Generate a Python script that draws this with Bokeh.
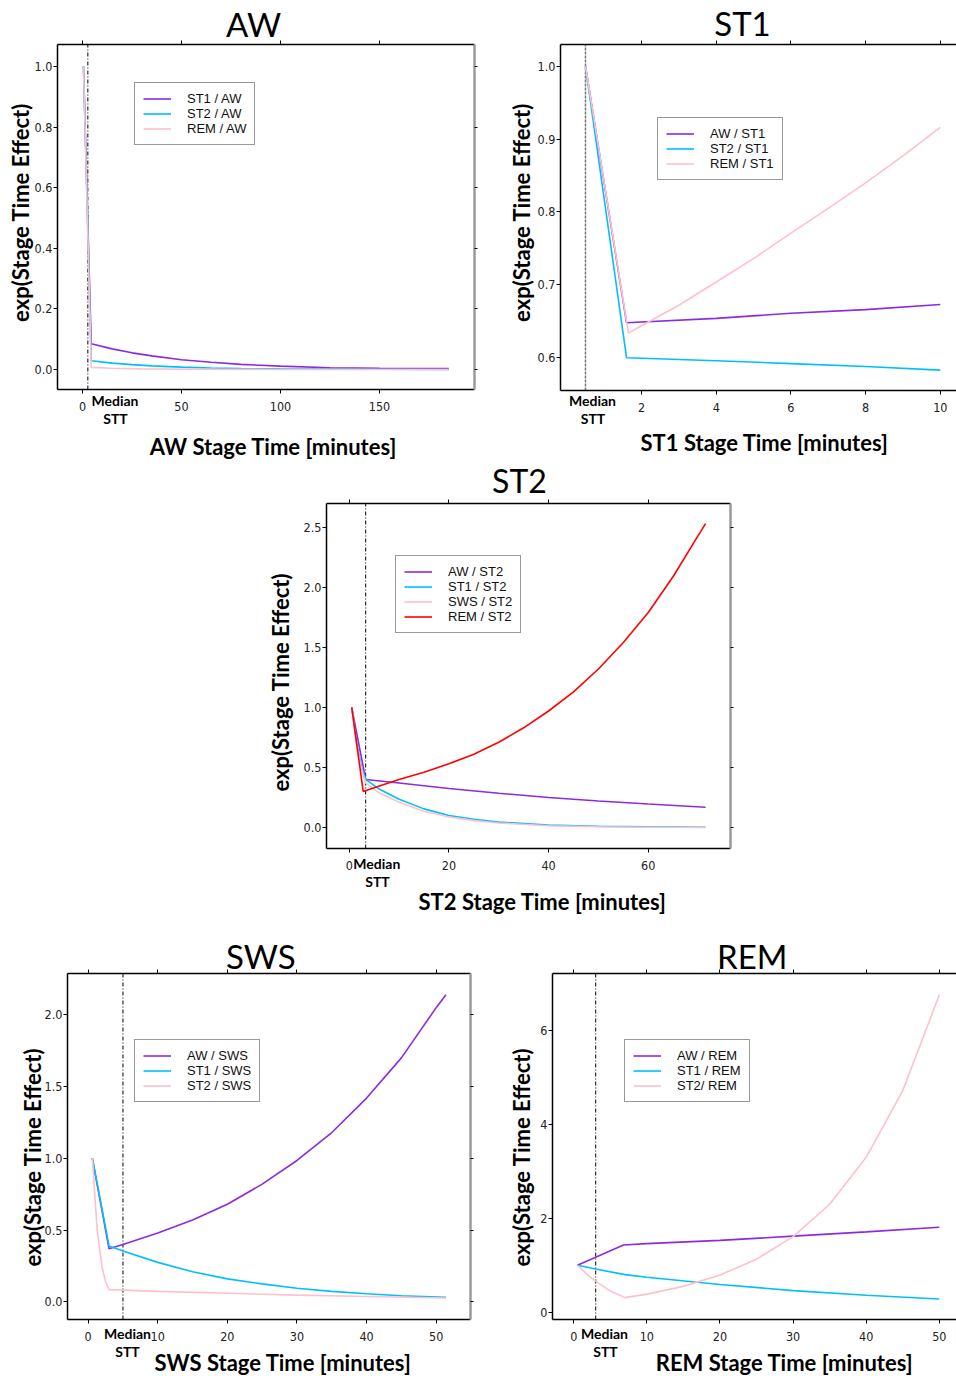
from bokeh.plotting import figure
from bokeh.models import (Range1d, LinearAxis, FixedTicker, Label, Legend, LegendItem, Spacer,
                          NumeralTickFormatter, CustomJSTickFormatter)
from bokeh.layouts import column, row
from bokeh.embed import file_html
from bokeh.resources import INLINE
import math

# ---------------- data ----------------
# AW panel
aw_st1_x = [0.5, 4.4, 15, 25, 35, 50, 65, 80, 100, 125, 150, 185]
aw_st1_y = [1.0, 0.085, 0.068, 0.055, 0.045, 0.032, 0.024, 0.017, 0.011, 0.006, 0.004, 0.003]
aw_st2_x = [0.5, 4.4, 15, 25, 35, 50, 65, 80, 100, 150, 185]
aw_st2_y = [1.0, 0.029, 0.021, 0.016, 0.012, 0.008, 0.005, 0.003, 0.002, 0.001, 0.0]
aw_rem_x = [0.5, 4.4, 15, 30, 60, 100, 185]
aw_rem_y = [1.0, 0.007, 0.004, 0.002, 0.001, 0.0, 0.0]
aw_median = 2.7

# ST1 panel
st1_aw_x = [0.5, 1.6, 4, 6, 8, 10]
st1_aw_y = [1.0, 0.648, 0.654, 0.661, 0.666, 0.673]
st1_st2_x = [0.5, 1.6, 4, 6, 8, 10]
st1_st2_y = [1.0, 0.600, 0.596, 0.592, 0.588, 0.583]
st1_rem_x = [0.5, 1.65, 2, 3, 4, 5, 6, 7, 8, 9, 10]
st1_rem_y = [1.0, 0.634, 0.644, 0.672, 0.704, 0.736, 0.771, 0.805, 0.840, 0.877, 0.916]
st1_median = 0.5

# ST2 panel
st2_aw_x = [0.5, 3.3, 10, 20, 30, 40, 50, 60, 71.5]
st2_aw_y = [1.0, 0.40, 0.37, 0.325, 0.285, 0.25, 0.22, 0.195, 0.168]
st2_st1_x = [0.5, 1.5, 2.5, 3.3, 6, 10, 15, 20, 25, 30, 40, 50, 60, 71.5]
st2_st1_y = [1.0, 0.70, 0.50, 0.40, 0.32, 0.235, 0.155, 0.10, 0.068, 0.045, 0.02, 0.01, 0.005, 0.002]
st2_sws_x = [0.5, 1.5, 2.5, 3.3, 6, 10, 15, 20, 25, 30, 40, 50, 60, 71.5]
st2_sws_y = [1.0, 0.68, 0.48, 0.37, 0.29, 0.21, 0.135, 0.087, 0.057, 0.037, 0.015, 0.006, 0.002, 0.0]
st2_rem_x = [0.5, 2.8, 5, 10, 15, 20, 25, 30, 35, 40, 45, 50, 55, 60, 65, 70, 71.5]
st2_rem_y = [1.0, 0.30, 0.33, 0.40, 0.46, 0.53, 0.61, 0.71, 0.83, 0.97, 1.13, 1.32, 1.54, 1.79, 2.09, 2.43, 2.53]
st2_median = 3.3

# SWS panel
sws_aw_x = [0.6, 3.0, 5, 10, 15, 20, 25, 30, 35, 40, 45, 50, 51.4]
sws_aw_y = [1.0, 0.37, 0.40, 0.48, 0.57, 0.68, 0.82, 0.985, 1.18, 1.42, 1.70, 2.05, 2.14]
sws_st1_x = [0.6, 3.0, 5, 10, 15, 20, 25, 30, 35, 40, 45, 51.4]
sws_st1_y = [1.0, 0.39, 0.355, 0.275, 0.21, 0.16, 0.125, 0.095, 0.073, 0.056, 0.043, 0.032]
sws_st2_x = [0.6, 1.3, 2.0, 2.5, 3.0, 10, 20, 30, 40, 51.4]
sws_st2_y = [1.0, 0.50, 0.24, 0.14, 0.085, 0.073, 0.06, 0.047, 0.037, 0.027]
sws_median = 5.0

# REM panel
rem_aw_x = [0.5, 6.8, 10, 20, 30, 40, 50]
rem_aw_y = [1.0, 1.43, 1.46, 1.53, 1.62, 1.71, 1.81]
rem_st1_x = [0.5, 3, 7, 10, 20, 30, 40, 50]
rem_st1_y = [1.0, 0.92, 0.80, 0.745, 0.59, 0.46, 0.36, 0.28]
rem_st2_x = [0.5, 2, 3, 5, 7, 10, 15, 20, 25, 30, 35, 40, 45, 50]
rem_st2_y = [1.0, 0.78, 0.66, 0.45, 0.31, 0.385, 0.55, 0.79, 1.13, 1.61, 2.30, 3.30, 4.72, 6.76]
rem_median = 3.0

# ticks
aw_xticks = [0, 50, 100, 150]
aw_yticks = [0.0, 0.2, 0.4, 0.6, 0.8, 1.0]
st1_xticks = [2, 4, 6, 8, 10]
st1_yticks = [0.6, 0.7, 0.8, 0.9, 1.0]
st2_xticks = [0, 20, 40, 60]
st2_yticks = [0.0, 0.5, 1.0, 1.5, 2.0, 2.5]
sws_xticks = [0, 10, 20, 30, 40, 50]
sws_yticks = [0.0, 0.5, 1.0, 1.5, 2.0]
rem_xticks = [0, 10, 20, 30, 40, 50]
rem_yticks = [0, 2, 4, 6]

# ---------------- style ----------------
PURPLE = "#8A2BE2"
BLUE = "#00BFFF"
PINK = "#FFC0CB"
RED = "#FF0000"
ARIAL = "Liberation Sans"
CAL = "Lato"
TICKFONT = "DejaVu Sans Condensed"
YLABEL = "exp(Stage Time Effect)"


def num_axis(ticks, fmt, loc, bounds, labels=True, line_color="black", line_width=1.5, tick_out=4):
    ax = LinearAxis(ticker=FixedTicker(ticks=ticks), fixed_location=loc, bounds=bounds)
    ax.axis_line_color = line_color
    ax.axis_line_width = line_width
    ax.major_tick_in = 0
    ax.major_tick_out = tick_out
    ax.major_tick_line_color = "black"
    ax.major_tick_line_width = 1
    ax.minor_tick_line_color = None
    if labels:
        ax.formatter = NumeralTickFormatter(format=fmt)
        ax.major_label_text_font = TICKFONT
        ax.major_label_text_font_size = "12.5px"
        ax.major_label_text_color = "#222222"
    else:
        ax.formatter = CustomJSTickFormatter(code="return '';")
        ax.major_label_text_font_size = "1px"
        ax.major_label_standoff = 0
    return ax


def panel(cfg, series):
    fx, fy = cfg["pos"]
    w, h = cfg["size"]
    l, t, r, b = cfg["box"]          # plotting box in figure pixels
    bx0, bx1 = cfg["xr"]             # data range of the box
    by0, by1 = cfg["yr"]
    ppx = (r - l) / (bx1 - bx0)
    ppy = (b - t) / (by1 - by0)
    X0, X1 = bx0 - l / ppx, bx1 + (w - r) / ppx
    Y0, Y1 = by0 - (h - b) / ppy, by1 + t / ppy
    p = figure(width=w, height=h,
               x_range=Range1d(X0, X1), y_range=Range1d(Y0, Y1),
               x_axis_type=None, y_axis_type=None, title_location=None,
               toolbar_location=None, output_backend="svg",
               min_border_left=0, min_border_right=0, min_border_top=0, min_border_bottom=0,
               outline_line_color=None,
               background_fill_color="white", border_fill_color="white")

    bx = num_axis(cfg["xticks"], cfg["xfmt"], by0, (bx0, bx1))
    bx.major_label_standoff = 8
    p.add_layout(bx, "below")
    lyx = num_axis(cfg["yticks"], cfg["yfmt"], bx0, (by0, by1))
    lyx.major_label_standoff = 1
    p.add_layout(lyx, "left")
    p.add_layout(num_axis(cfg["xticks"], "", by1, (bx0, bx1), labels=False), "above")
    if cfg.get("right", True):
        p.add_layout(num_axis(cfg["yticks"], "", bx1, (by0, by1), labels=False,
                              line_color="#9a9a9a", line_width=2.5, tick_out=3), "right")

    def xd(ax_abs):
        return X0 + (ax_abs - fx) / ppx

    def yd(ay_abs):
        return Y0 + ((fy + h) - ay_abs) / ppy

    # median line, spanning the plotting box
    med = cfg["median"]
    p.segment(x0=[med], y0=[by0], x1=[med], y1=[by1],
              line_color=cfg.get("mcolor", "black"), line_width=cfg.get("mwidth", 1),
              line_dash=cfg.get("mdash", "4 2 1 2"))

    items = []
    for name, xs, ys, col in series:
        rr = p.line(xs, ys, line_color=col, line_width=1.6)
        items.append(LegendItem(label=name, renderers=[rr]))

    lx0, ly0, lx1, ly1 = cfg["legend"]
    leg = Legend(items=items, location=(lx0 - fx, (fy + h) - ly1), padding=8, margin=0,
                 label_height=15, glyph_height=15, glyph_width=28, label_standoff=16, spacing=0,
                 label_text_font=ARIAL, label_text_font_size="13px", label_text_color="#111111",
                 border_line_color="#333333", border_line_width=1.5,
                 background_fill_color="white", background_fill_alpha=1.0)
    p.add_layout(leg)

    def lab(text, pos, size, style="normal", angle=0.0):
        p.add_layout(Label(x=xd(pos[0]), y=yd(pos[1]), text=text,
                           text_font=CAL, text_font_size=size, text_font_style=style,
                           text_align="center", text_baseline="middle", angle=angle,
                           text_color="black"))

    lab(cfg["title"], cfg["title_pos"], cfg.get("title_size", "33px"))
    lab(cfg["xlabel"], cfg["xlabel_pos"], "22px", "bold")
    lab(YLABEL, cfg["ylabel_pos"], "22px", "bold", math.pi / 2)
    lab("Median", cfg["med_pos"][0], "14px", "bold")
    lab("STT", cfg["med_pos"][1], "14px", "bold")
    return p


aw_cfg = dict(pos=(0, 0), size=(480, 459), box=(57, 44, 474, 389),
              xr=(-12.63, 197.98), yr=(-0.066, 1.0726), xticks=aw_xticks, yticks=aw_yticks,
              xfmt="0", yfmt="0.0",
              median=aw_median, title="AW", title_pos=(253, 23),
              xlabel="AW Stage Time [minutes]", xlabel_pos=(273, 446), ylabel_pos=(19.5, 212),
              med_pos=((114.5, 400), (115, 418)), legend=(134, 83, 257, 145))
st1_cfg = dict(pos=(480, 0), size=(476, 459), box=(80, 44, 476, 390),
               xr=(-0.169, 10.434), yr=(0.5551, 1.0298), xticks=st1_xticks, yticks=st1_yticks,
               xfmt="0", yfmt="0.0",
               median=st1_median, mcolor="#777777", mwidth=1.5, mdash="3 1", right=False,
               title="ST1", title_pos=(742, 22.5),
               xlabel="ST1 Stage Time [minutes]", xlabel_pos=(764, 442), ylabel_pos=(520.5, 212),
               med_pos=((592, 400), (592.5, 418)), legend=(657, 117, 780, 180))
st2_cfg = dict(pos=(260, 459), size=(480, 471), box=(66, 44, 470, 389),
               xr=(-4.56, 76.5), yr=(-0.175, 2.698), xticks=st2_xticks, yticks=st2_yticks,
               xfmt="0", yfmt="0.0",
               median=st2_median, title="ST2", title_pos=(519, 479.5), title_size="32px",
               xlabel="ST2 Stage Time [minutes]", xlabel_pos=(542, 900.5), ylabel_pos=(280, 681.7),
               med_pos=((376.3, 862.7), (377, 880.7)), legend=(395, 555, 520, 633))
sws_cfg = dict(pos=(0, 930), size=(480, 446), box=(67, 43, 470, 389),
               xr=(-2.97, 54.93), yr=(-0.123, 2.288), xticks=sws_xticks, yticks=sws_yticks,
               xfmt="0", yfmt="0.0",
               median=sws_median, title="SWS", title_pos=(260.3, 955),
               xlabel="SWS Stage Time [minutes]", xlabel_pos=(282.5, 1362), ylabel_pos=(31.5, 1156.7),
               med_pos=((127, 1332.7), (127, 1350.7)), legend=(134, 1039, 259, 1102))
rem_cfg = dict(pos=(480, 930), size=(476, 446), box=(72, 43, 476, 389),
               xr=(-2.91, 52.35), yr=(-0.156, 7.216), xticks=rem_xticks, yticks=rem_yticks,
               xfmt="0", yfmt="0",
               median=rem_median, right=False, title="REM", title_pos=(751.7, 955),
               xlabel="REM Stage Time [minutes]", xlabel_pos=(784, 1362), ylabel_pos=(520.5, 1156.7),
               med_pos=((604, 1332.7), (605, 1350.7)), legend=(624, 1039, 747, 1102))

p_aw = panel(aw_cfg, [("ST1 / AW", aw_st1_x, aw_st1_y, PURPLE),
                      ("ST2 / AW", aw_st2_x, aw_st2_y, BLUE),
                      ("REM / AW", aw_rem_x, aw_rem_y, PINK)])
p_st1 = panel(st1_cfg, [("AW / ST1", st1_aw_x, st1_aw_y, PURPLE),
                        ("ST2 / ST1", st1_st2_x, st1_st2_y, BLUE),
                        ("REM / ST1", st1_rem_x, st1_rem_y, PINK)])
p_st2 = panel(st2_cfg, [("AW / ST2", st2_aw_x, st2_aw_y, PURPLE),
                        ("ST1 / ST2", st2_st1_x, st2_st1_y, BLUE),
                        ("SWS / ST2", st2_sws_x, st2_sws_y, PINK),
                        ("REM / ST2", st2_rem_x, st2_rem_y, RED)])
p_sws = panel(sws_cfg, [("AW / SWS", sws_aw_x, sws_aw_y, PURPLE),
                        ("ST1 / SWS", sws_st1_x, sws_st1_y, BLUE),
                        ("ST2 / SWS", sws_st2_x, sws_st2_y, PINK)])
p_rem = panel(rem_cfg, [("AW / REM", rem_aw_x, rem_aw_y, PURPLE),
                        ("ST1 / REM", rem_st1_x, rem_st1_y, BLUE),
                        ("ST2/ REM", rem_st2_x, rem_st2_y, PINK)])

layout = column(row(p_aw, p_st1),
                row(Spacer(width=260, height=471), p_st2),
                row(p_sws, p_rem))

open("out.html", "w").write(file_html(layout, INLINE, title="Stage time effects"))
